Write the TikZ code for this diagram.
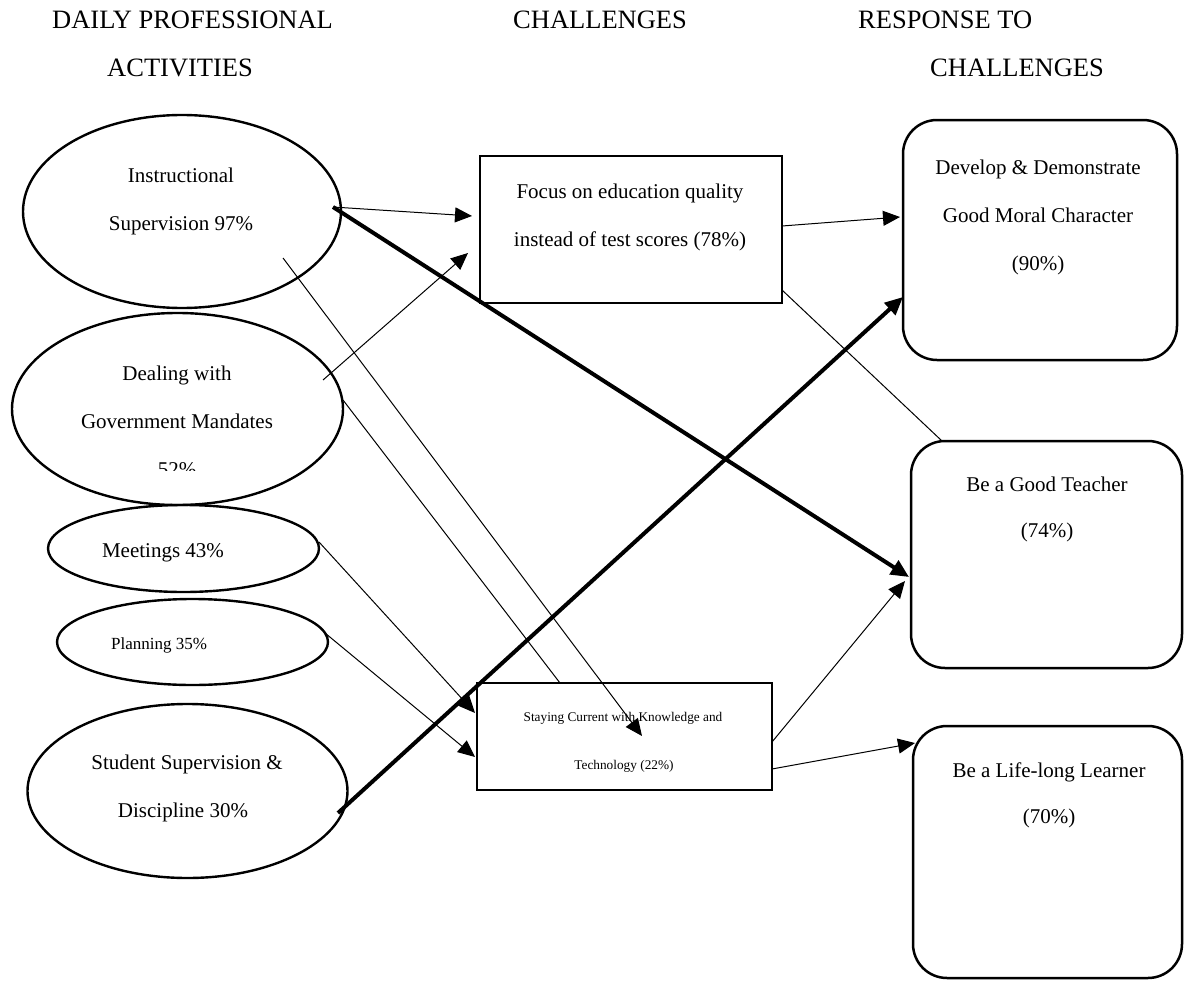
\documentclass[tikz,border=0pt]{standalone}
\usepackage{fontspec}
\setmainfont{Liberation Serif}
\usetikzlibrary{shapes.geometric,arrows.meta}
\begin{document}
\begin{tikzpicture}[x=1pt,y=-1pt,
  oval/.style={ellipse,draw,line width=2.4pt,inner sep=0pt},
  sqbox/.style={rectangle,draw,line width=2.5pt,inner sep=0pt},
  rbox/.style={rectangle,draw,line width=2.5pt,rounded corners=34pt,inner sep=0pt},
  txt/.style={inner sep=0pt,anchor=base,font=\fontsize{21}{25}\selectfont},
  hdr/.style={inner sep=0pt,anchor=base west,font=\fontsize{26.5}{30}\selectfont},
  plain/.style={line width=1pt},
  thinarr/.style={line width=1pt,-{Triangle[length=17pt,width=15pt]}},
  thickarr/.style={line width=4pt,-{Triangle[length=18pt,width=16pt]}},
]
\useasboundingbox (0,0) rectangle (1184,982);

% headers
\node[hdr] (h1a) at (52,29) {DAILY PROFESSIONAL};
\node[hdr] (h1b) at (107,77) {ACTIVITIES};
\node[hdr] (h2) at (513,29) {CHALLENGES};
\node[hdr] (h3a) at (858,29) {RESPONSE TO};
\node[hdr] (h3b) at (930,77) {CHALLENGES};

% ellipses
\node[oval,minimum width=318pt,minimum height=193pt] (ins) at (182,211.5) {};
\node[oval,minimum width=331pt,minimum height=192pt] (gov) at (177.5,409) {};
\node[oval,minimum width=271pt,minimum height=87pt] (meet) at (183.5,548.5) {};
\node[oval,minimum width=271pt,minimum height=86pt] (plan) at (192.5,642) {};
\node[oval,minimum width=320pt,minimum height=174pt] (stu) at (187.5,791) {};

\node[txt] (insA) at (181,182) {Instructional};
\node[txt] (insB) at (181,230) {Supervision 97\%};
\node[txt] (govA) at (177,380) {Dealing with};
\node[txt] (govB) at (177,428) {Government Mandates};
\begin{scope}
  \clip (0,300) rectangle (400,470);
  \node[txt] (govC) at (177,476) {52\%};
\end{scope}
\node[txt] (meetT) at (163,557) {Meetings 43\%};
\node[txt,font=\fontsize{17}{20}\selectfont] (planT) at (159,649) {Planning 35\%};
\node[txt] (stuA) at (187,769) {Student Supervision \&};
\node[txt] (stuB) at (183,817) {Discipline 30\%};

% challenge boxes
\node[sqbox,minimum width=302pt,minimum height=147pt] (foc) at (631,229.5) {};
\node[txt] (focA) at (630,198) {Focus on education quality};
\node[txt] (focB) at (630,246) {instead of test scores (78\%)};
\node[sqbox,minimum width=295pt,minimum height=107pt] (stay) at (624.5,736.5) {};
\node[txt,font=\fontsize{13.3}{16}\selectfont] (stayA) at (623,721) {Staying Current with Knowledge and};
\node[txt,font=\fontsize{13.3}{16}\selectfont] (stayB) at (624,769) {Technology (22\%)};

% response boxes
\node[rbox,minimum width=274pt,minimum height=240pt] (dev) at (1040,240) {};
\node[txt] (devA) at (1038,174) {Develop \& Demonstrate};
\node[txt] (devB) at (1038,222) {Good Moral Character};
\node[txt] (devC) at (1038,270) {(90\%)};
\node[rbox,minimum width=271pt,minimum height=227pt] (tea) at (1046.5,554.5) {};
\node[txt] (teaA) at (1047,491) {Be a Good Teacher};
\node[txt] (teaB) at (1047,537) {(74\%)};
\node[rbox,minimum width=269pt,minimum height=252pt] (lll) at (1047.5,852) {};
\node[txt] (lllA) at (1049,777) {Be a Life-long Learner};
\node[txt] (lllB) at (1049,823) {(70\%)};

% connector end points
\coordinate (insR) at (333,207);
\coordinate (insIn) at (283,258);
\coordinate (govIn) at (323,380);
\coordinate (govR) at (343,400);
\coordinate (meetR) at (319,542);
\coordinate (planR) at (325,633);
\coordinate (stuR) at (338,813);
\coordinate (focL1) at (472,216);
\coordinate (focL2) at (468,253);
\coordinate (focR1) at (782,226);
\coordinate (focR2) at (782,290);
\coordinate (stayTop) at (560,683);
\coordinate (stayIn) at (642,736);
\coordinate (stayL1) at (475,713);
\coordinate (stayL2) at (475,757);
\coordinate (stayR1) at (772,742);
\coordinate (stayR2) at (772,769);
\coordinate (devL1) at (900,217);
\coordinate (devL2) at (903,297);
\coordinate (teaL1) at (909,577);
\coordinate (teaL2) at (905,581);
\coordinate (teaTop) at (942,441);
\coordinate (lllL) at (915,743);

% connectors
\draw[thinarr] (insR) -- (focL1);
\draw[thickarr] (insR) -- (teaL1);
\draw[thinarr] (insIn) -- (stayIn);
\draw[thinarr] (govIn) -- (focL2);
\draw[plain] (govR) -- (stayTop);
\draw[thinarr] (meetR) -- (stayL1);
\draw[thinarr] (planR) -- (stayL2);
\draw[thickarr] (stuR) -- (devL2);
\draw[thinarr] (focR1) -- (devL1);
\draw[plain] (focR2) -- (teaTop);
\draw[thinarr] (stayR1) -- (teaL2);
\draw[thinarr] (stayR2) -- (lllL);
\end{tikzpicture}
\end{document}
